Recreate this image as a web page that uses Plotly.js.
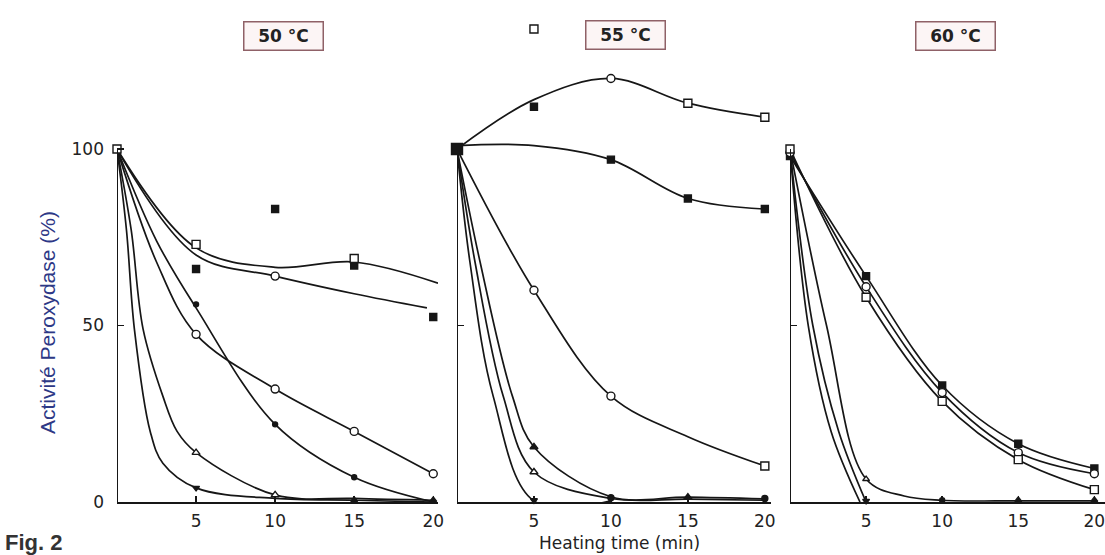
<!DOCTYPE html>
<html>
<head>
<meta charset="utf-8">
<script src="https://cdn.plot.ly/plotly-3.0.1.min.js"></script>
<style>html,body{margin:0;padding:0;background:#fff;}#chart{width:1105px;height:555px;}</style>
</head>
<body>
<div id="chart"></div>
<script>
// ---------- DATA ----------
const panelTitles = ["50 °C", "55 °C", "60 °C"];
const xTicks = [5, 10, 15, 20];
const yTicks = [0, 50, 100];
const yTickText = ["0", "50", "100"];

// 50 °C — drawn curves
const c50_sq_x = [0, 5, 10, 15, 20.3],            c50_sq_y = [100, 72, 66.5, 68, 62];
const c50_oc1_x = [0, 5, 10, 15, 19.6],           c50_oc1_y = [100, 70, 64, 59, 55];
const c50_fc_x = [0, 2.5, 5, 10, 15, 20],         c50_fc_y = [100, 74, 55, 22, 7, 0];
const c50_oc2_x = [0, 2.5, 5, 10, 15, 20],        c50_oc2_y = [100, 68, 47.5, 32, 20, 8];
const c50_ot_x = [0, 0.9, 1.65, 2.9, 3.8, 5, 10, 15, 20], c50_ot_y = [100, 77, 49, 30, 20, 14, 2, 1, 0.5];
const c50_fd_x = [0, 0.6, 1.1, 2.1, 2.9, 5, 10, 15, 20],  c50_fd_y = [100, 77, 49, 20, 11, 4, 1, 0.5, 0];
// 50 °C — plotted symbols
const m50_osq_x = [0, 5, 15],        m50_osq_y = [100, 73, 69];
const m50_fsq_x = [5, 10, 15, 20],   m50_fsq_y = [66, 83, 67, 52.4];
const m50_oci_x = [10, 5, 10, 15, 20], m50_oci_y = [64, 47.5, 32, 20, 8];
const m50_fci_x = [5, 10, 15],       m50_fci_y = [56, 22, 7];
const m50_otr_x = [5, 10],           m50_otr_y = [14, 2];
const m50_ftr_x = [15, 20],          m50_ftr_y = [0.6, 0.6];
const m50_fdn_x = [5],               m50_fdn_y = [4];

// 55 °C — drawn curves
const c55_a_x = [0, 5, 10, 15, 20],  c55_a_y = [100, 114, 120, 113, 109];
const c55_b_x = [0, 5, 10, 15, 20],  c55_b_y = [101, 101, 97, 86, 83];
const c55_c_x = [0, 5, 10, 15, 20],  c55_c_y = [100, 60, 30, 18.5, 10.2];
const c55_ft_x = [0, 1.5, 3.6, 5, 10, 15, 20],  c55_ft_y = [100, 68, 30, 15.6, 1.5, 1.4, 0.9];
const c55_ot_x = [0, 1.17, 3.0, 5, 10, 15, 20], c55_ot_y = [100, 68, 30, 8.5, 1, 0.8, 0.5];
const c55_fd_x = [0, 0.84, 2.35, 5, 10],        c55_fd_y = [100, 68, 30, 0.3, 0.3];
// 55 °C — plotted symbols
const m55_osq_x = [5, 15, 20, 20],   m55_osq_y = [134, 113, 109, 10.2];
const m55_oci_x = [10, 5, 10],       m55_oci_y = [120, 60, 30];
const m55_fsq_x = [5, 10, 15, 20],   m55_fsq_y = [112, 97, 86, 83];
const m55_big_x = [0],               m55_big_y = [100];
const m55_ftr_x = [5, 15],           m55_ftr_y = [15.6, 1.4];
const m55_otr_x = [5],               m55_otr_y = [8.5];
const m55_fdn_x = [5],               m55_fdn_y = [0.5];
const m55_fci_x = [10, 20],          m55_fci_y = [1.2, 1];

// 60 °C — drawn curves
const c60_a_x = [0, 5, 10, 15, 20],  c60_a_y = [98, 64, 33, 16.5, 9.5];
const c60_b_x = [0, 5, 10, 15, 20],  c60_b_y = [99, 61, 31, 14, 8];
const c60_c_x = [0, 5, 10, 15, 20],  c60_c_y = [100, 58, 28.5, 12, 3.5];
const c60_s1_x = [0, 1.2, 2.7, 4.6], c60_s1_y = [100, 50, 20, 0];
const c60_s2_x = [0, 1.5, 3.2, 5],   c60_s2_y = [100, 50, 20, 0];
const c60_s3_x = [0, 2.4, 5, 7.5, 10, 15, 20], c60_s3_y = [100, 50, 6.5, 1.7, 0.5, 0.3, 0.3];
// 60 °C — plotted symbols
const m60_fsq_x = [0, 5, 10, 15, 20], m60_fsq_y = [98, 64, 33, 16.5, 9.5];
const m60_oci_x = [0, 5, 10, 15, 20], m60_oci_y = [99, 61, 31, 14, 8];
const m60_osq_x = [0, 5, 10, 15, 20], m60_osq_y = [100, 58, 28.5, 12, 3.5];
const m60_otr_x = [5],               m60_otr_y = [6.5];
const m60_fci_x = [10],              m60_fci_y = [0.5];
const m60_ftr_x = [15, 20],          m60_ftr_y = [0.6, 0.6];
const m60_fdn_x = [5],               m60_fdn_y = [0.3];

// ---------- STYLE ----------
const INK = "#161616";
const W = 1105, TOP = 10, BOT = 502;
const px = v => v / W;
const py = v => (BOT - v) / (BOT - TOP);

function curve(x, y, ax) {
  return {x, y, xaxis: "x" + ax, yaxis: "y" + ax, type: "scatter", mode: "lines",
    line: {color: INK, width: 1.7, shape: "spline", smoothing: 1.0},
    hoverinfo: "skip", showlegend: false, cliponaxis: false};
}
function marks(x, y, ax, symbol, filled, size) {
  return {x, y, xaxis: "x" + ax, yaxis: "y" + ax, type: "scatter", mode: "markers",
    marker: {symbol, size, color: filled ? INK : "#ffffff", line: {color: INK, width: 1.4}},
    hoverinfo: "skip", showlegend: false, cliponaxis: false};
}

const data = [
  // 50 °C
  curve(c50_sq_x, c50_sq_y, ""), curve(c50_oc1_x, c50_oc1_y, ""), curve(c50_fc_x, c50_fc_y, ""),
  curve(c50_oc2_x, c50_oc2_y, ""), curve(c50_ot_x, c50_ot_y, ""), curve(c50_fd_x, c50_fd_y, ""),
  marks(m50_fsq_x, m50_fsq_y, "", "square", true, 7),
  marks(m50_osq_x, m50_osq_y, "", "square", false, 8),
  marks(m50_oci_x, m50_oci_y, "", "circle", false, 8),
  marks(m50_fci_x, m50_fci_y, "", "circle", true, 5),
  marks(m50_otr_x, m50_otr_y, "", "triangle-up", false, 7),
  marks(m50_ftr_x, m50_ftr_y, "", "triangle-up", true, 6),
  marks(m50_fdn_x, m50_fdn_y, "", "triangle-down", true, 6),
  // 55 °C
  curve(c55_a_x, c55_a_y, "2"), curve(c55_b_x, c55_b_y, "2"), curve(c55_c_x, c55_c_y, "2"),
  curve(c55_ft_x, c55_ft_y, "2"), curve(c55_ot_x, c55_ot_y, "2"), curve(c55_fd_x, c55_fd_y, "2"),
  marks(m55_fsq_x, m55_fsq_y, "2", "square", true, 7),
  marks(m55_big_x, m55_big_y, "2", "square", true, 11),
  marks(m55_osq_x, m55_osq_y, "2", "square", false, 8),
  marks(m55_oci_x, m55_oci_y, "2", "circle", false, 8),
  marks(m55_ftr_x, m55_ftr_y, "2", "triangle-up", true, 7),
  marks(m55_otr_x, m55_otr_y, "2", "triangle-up", false, 7),
  marks(m55_fdn_x, m55_fdn_y, "2", "triangle-down", true, 6),
  marks(m55_fci_x, m55_fci_y, "2", "circle", true, 6),
  // 60 °C
  curve(c60_a_x, c60_a_y, "3"), curve(c60_b_x, c60_b_y, "3"), curve(c60_c_x, c60_c_y, "3"),
  curve(c60_s1_x, c60_s1_y, "3"), curve(c60_s2_x, c60_s2_y, "3"), curve(c60_s3_x, c60_s3_y, "3"),
  marks(m60_fsq_x, m60_fsq_y, "3", "square", true, 7),
  marks(m60_oci_x, m60_oci_y, "3", "circle", false, 8),
  marks(m60_osq_x, m60_osq_y, "3", "square", false, 8),
  marks(m60_otr_x, m60_otr_y, "3", "triangle-up", false, 6),
  marks(m60_fci_x, m60_fci_y, "3", "circle", true, 5),
  marks(m60_ftr_x, m60_ftr_y, "3", "triangle-up", true, 6),
  marks(m60_fdn_x, m60_fdn_y, "3", "triangle-down", true, 6)
];

const tickFont = {family: "DejaVu Sans", size: 17, color: "#222"};
function xAxis(domain, range, anchor) {
  return {domain, range, anchor, tickvals: xTicks, ticktext: xTicks.map(String),
    ticks: "inside", ticklen: 6, tickwidth: 1.5, tickcolor: INK,
    showline: true, linecolor: INK, linewidth: 2, showgrid: false, zeroline: false,
    tickfont: tickFont, ticklabelstandoff: 3, ticklabeloverflow: "allow", fixedrange: true};
}
function yAxis(anchor, labels) {
  return {domain: [0, 1], range: [0, 139.4], anchor,
    tickvals: labels ? yTicks : [50], ticktext: labels ? yTickText : [""],
    showticklabels: labels, ticks: "inside", ticklen: 7, tickwidth: 1.5, tickcolor: INK,
    showline: false, showgrid: false, zeroline: false,
    tickfont: tickFont, ticklabelstandoff: 12, fixedrange: true};
}

const shapes = [["x", "y"], ["x2", "y2"], ["x3", "y3"]].map(([xr, yr]) => ({
  type: "line", xref: xr, yref: yr, x0: 0, x1: 0, y0: 0, y1: 100,
  line: {color: INK, width: 2}
}));

const boxCenters = [[283, 36], [625, 35], [955, 36]];
const titleAnn = panelTitles.map((t, i) => ({
  text: t, xref: "paper", yref: "paper", x: px(boxCenters[i][0]), y: py(boxCenters[i][1]),
  xanchor: "center", yanchor: "middle", showarrow: false,
  font: {family: "DejaVu Sans", size: 17, color: "#222", weight: "bold"},
  bordercolor: "#8f6167", borderwidth: 1.5, bgcolor: "#fcf5f5", borderpad: 1,
  width: 76, height: 25
}));

const layout = {
  width: 1105, height: 555,
  margin: {l: 0, r: 0, t: TOP, b: 555 - BOT, pad: 0},
  paper_bgcolor: "#ffffff", plot_bgcolor: "#ffffff",
  showlegend: false,
  xaxis: xAxis([px(117), px(438)], [0, 20.3], "y"),
  yaxis: yAxis("x", true),
  xaxis2: xAxis([px(457), px(771)], [0, 20.4], "y2"),
  yaxis2: yAxis("x2", false),
  xaxis3: xAxis([px(790), 1], [0, 20.7], "y3"),
  yaxis3: yAxis("x3", false),
  shapes,
  annotations: titleAnn.concat([
    {text: "Activité Peroxydase (%)", xref: "paper", yref: "paper", x: px(47), y: py(323),
     xanchor: "center", yanchor: "middle", textangle: -90, showarrow: false,
     font: {family: "Liberation Sans", size: 21, color: "#2d3886"}},
    {text: "Heating time (min)", xref: "paper", yref: "paper", x: px(619), y: py(543),
     xanchor: "center", yanchor: "middle", showarrow: false,
     font: {family: "DejaVu Sans", size: 17, color: "#222"}},
    {text: "Fig. 2", xref: "paper", yref: "paper", x: px(3), y: py(542),
     xanchor: "left", yanchor: "middle", showarrow: false,
     font: {family: "Liberation Sans", size: 22, color: "#333", weight: "bold"}}
  ])
};

Plotly.newPlot("chart", data, layout, {displayModeBar: false, staticPlot: true});
</script>
</body>
</html>
